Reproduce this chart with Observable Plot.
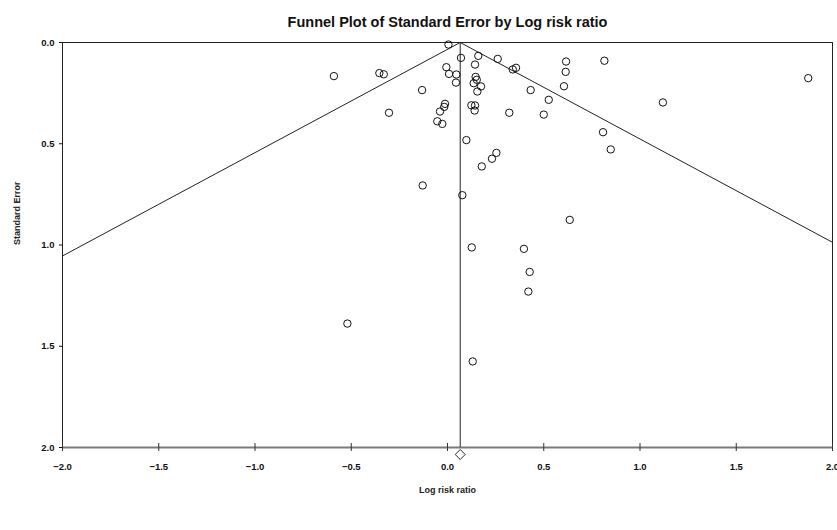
<!DOCTYPE html>
<html>
<head>
<meta charset="utf-8">
<script src="https://cdn.jsdelivr.net/npm/d3@7"></script>
<script src="https://cdn.jsdelivr.net/npm/@observablehq/plot@0.6"></script>
<style>
  html, body { margin: 0; padding: 0; background: #fff; }
</style>
</head>
<body>
<div id="chart"></div>
<script>
const titleText = "Funnel Plot of Standard Error by Log risk ratio";
const xLabel = "Log risk ratio";
const yLabel = "Standard Error";

const logRR = [
  0.005, -0.59, -0.354, -0.331, -0.132, -0.304, 0.070, -0.006, 0.008, 0.046,
  0.044, -0.013, -0.017, -0.039, -0.053, -0.027, 0.098, 0.160, 0.143, 0.146,
  0.152, 0.136, 0.174, 0.155, 0.124, 0.143, 0.141, 0.261, 0.321, 0.339,
  0.356, 0.616, 0.815, 0.614, 0.605, 0.432, 0.526, 0.500, 1.119, 0.808,
  0.848, 0.254, 0.231, 0.178, -0.129, 0.077, 0.635, 0.126, 0.397, 0.427,
  0.420, -0.520, 0.131, 1.874
];
const stdErr = [
  0.010, 0.166, 0.151, 0.157, 0.235, 0.347, 0.076, 0.122, 0.155, 0.158,
  0.198, 0.303, 0.318, 0.341, 0.389, 0.402, 0.482, 0.066, 0.109, 0.170,
  0.184, 0.201, 0.217, 0.242, 0.310, 0.311, 0.336, 0.081, 0.347, 0.133,
  0.125, 0.094, 0.090, 0.145, 0.216, 0.235, 0.283, 0.356, 0.296, 0.443,
  0.528, 0.545, 0.574, 0.612, 0.706, 0.754, 0.876, 1.012, 1.019, 1.133,
  1.230, 1.388, 1.575, 0.176
];
const meanEffect = 0.066;
const xTicks = [-2, -1.5, -1, -0.5, 0, 0.5, 1, 1.5, 2];
const yTicks = [0, 0.5, 1, 1.5, 2];

const studies = logRR.map((x, i) => ({x, se: stdErr[i]}));
const seMax = d3.max(yTicks);
const funnel = [
  {x: meanEffect - 1.96 * seMax, se: seMax},
  {x: meanEffect, se: 0},
  {x: meanEffect + 1.96 * seMax, se: seMax}
];
const fmt = d3.format(".1f");

const chart = Plot.plot({
  width: 837,
  height: 530,
  marginLeft: 62,
  marginRight: 5,
  marginTop: 42,
  marginBottom: 83,
  style: {fontFamily: "'Liberation Sans', Arial, sans-serif", background: "#fff", color: "#111"},
  x: {domain: [-2, 2]},
  y: {domain: [0, 2], reverse: true},
  marks: [
    Plot.frame({stroke: "#222"}),
    Plot.ruleY([seMax], {stroke: "#7a7a7a", strokeWidth: 2}),
    Plot.line(funnel, {x: "x", y: "se", stroke: "#222", strokeWidth: 1, clip: true}),
    Plot.ruleX([meanEffect], {stroke: "#222"}),
    Plot.dot(studies, {x: "x", y: "se", r: 3.7, stroke: "#111", strokeWidth: 1, fill: "none"}),
    Plot.dot([meanEffect], {x: d => d, frameAnchor: "bottom", dy: 7, symbol: "diamond2", r: 4.5, stroke: "#111", strokeWidth: 0.9, fill: "white"}),
    Plot.axisY({ticks: yTicks, tickFormat: fmt, tickSize: 3, tickPadding: 5, fontWeight: "bold", fontSize: 9.5, label: null}),
    Plot.axisX({ticks: xTicks, tickSize: 8, dy: -4, fill: "none", stroke: "#333", label: null}),
    Plot.axisX({ticks: xTicks, tickFormat: fmt, tickSize: 0, tickPadding: 16, fontWeight: "bold", fontSize: 9.5, label: null}),
    Plot.text([titleText], {text: d => d, frameAnchor: "top", dy: -26, fontSize: 14.5, fontWeight: "bold"}),
    Plot.text([xLabel], {text: d => d, frameAnchor: "bottom", dy: 45, fontSize: 9, fontWeight: "bold", fill: "#222"}),
    Plot.text([yLabel], {text: d => d, frameAnchor: "left", dx: -45, rotate: -90, fontSize: 9, fontWeight: "bold", fill: "#222"})
  ]
});
document.getElementById("chart").appendChild(chart);
</script>
</body>
</html>
